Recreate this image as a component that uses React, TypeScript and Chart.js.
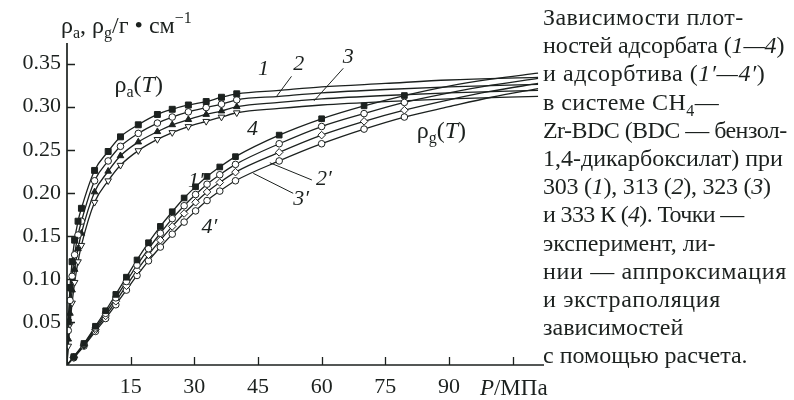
import React, { useEffect, useRef } from 'react';
import { Chart, registerables } from 'chart.js';

Chart.register(...registerables);

const FONT = '"Liberation Serif", "Times New Roman", serif';
const INK = '#1c211f';

// ---- axes ----
const xMin = 0;
const xMax = 112.4;
const yMin = 0;
const yMax = 0.374;
const xTicks = [15, 30, 45, 60, 75, 90, 105];
const xTickLabels = ['15', '30', '45', '60', '75', '90', ''];
const yTicks = [0.05, 0.1, 0.15, 0.2, 0.25, 0.3, 0.35];
const yTickLabels = ['0.05', '0.10', '0.15', '0.20', '0.25', '0.30', '0.35'];

// ---- origin shared by all curves ----
const originP = 0;
const originRho = 0;

// ---- adsorbate density rho_a (curves 1-4): experimental points ----
const aP = [0.3, 0.7, 1.2, 1.8, 2.6, 3.4, 6.5, 9.7, 12.6, 16.8, 21.3, 24.8, 28.6, 32.8, 36.4, 40];
const a1 = [0.05, 0.09, 0.12, 0.145, 0.167, 0.182, 0.226, 0.248, 0.265, 0.279, 0.291, 0.297, 0.302, 0.306, 0.311, 0.315];
const a2 = [0.04, 0.075, 0.103, 0.128, 0.151, 0.167, 0.214, 0.237, 0.254, 0.269, 0.281, 0.288, 0.294, 0.299, 0.303, 0.308];
const a3 = [0.03, 0.06, 0.087, 0.111, 0.135, 0.153, 0.201, 0.225, 0.243, 0.259, 0.271, 0.279, 0.285, 0.291, 0.295, 0.3];
const a4 = [0.022, 0.047, 0.072, 0.096, 0.12, 0.139, 0.189, 0.214, 0.232, 0.249, 0.262, 0.27, 0.277, 0.283, 0.288, 0.293];
// extrapolation (lines only)
const aExtP = [50, 60, 75, 90, 111];
const a1Ext = [0.319, 0.323, 0.327, 0.331, 0.334];
const a2Ext = [0.312, 0.316, 0.32, 0.323, 0.326];
const a3Ext = [0.305, 0.309, 0.313, 0.316, 0.319];
const a4Ext = [0.298, 0.302, 0.306, 0.309, 0.312];

// ---- gas density rho_g (curves 1'-4'): experimental points ----
const gP = [1.6, 4, 6.7, 9.1, 11.5, 14, 16.5, 19.2, 22, 24.8, 27.6, 30.3, 33, 36, 39.7, 50, 60, 70, 79.5];
const g1 = [0.0097, 0.025, 0.045, 0.063, 0.082, 0.102, 0.122, 0.142, 0.161, 0.178, 0.194, 0.207, 0.219, 0.23, 0.242, 0.267, 0.286, 0.301, 0.313];
const g2 = [0.0092, 0.024, 0.043, 0.06, 0.078, 0.097, 0.116, 0.135, 0.153, 0.17, 0.185, 0.198, 0.21, 0.221, 0.233, 0.257, 0.277, 0.292, 0.305];
const g3 = [0.0088, 0.023, 0.041, 0.057, 0.074, 0.092, 0.11, 0.128, 0.145, 0.161, 0.176, 0.189, 0.201, 0.212, 0.224, 0.247, 0.267, 0.283, 0.296];
const g4 = [0.0084, 0.022, 0.039, 0.054, 0.07, 0.087, 0.104, 0.121, 0.137, 0.152, 0.166, 0.179, 0.191, 0.202, 0.214, 0.237, 0.257, 0.274, 0.288];
// extrapolation (lines only)
const gExtP = [90, 100, 111];
const g1Ext = [0.324, 0.332, 0.339];
const g2Ext = [0.316, 0.325, 0.333];
const g3Ext = [0.308, 0.318, 0.327];
const g4Ext = [0.3, 0.311, 0.321];

// ---- curve labels (data coordinates) ----
const curveLabels = [
  { t: '1', p: 45, v: 0.337 },
  { t: '2', p: 53.3, v: 0.3426 },
  { t: '3', p: 65, v: 0.3508 },
  { t: '4', p: 42.4, v: 0.267 },
  { t: '1′', p: 28.5, v: 0.2067 },
  { t: '2′', p: 58.7, v: 0.209 },
  { t: '3′', p: 53.3, v: 0.1858 },
  { t: '4′', p: 31.7, v: 0.1533 },
];
const leaders = [
  [52.9, 0.3353, 49.4, 0.3121],
  [65.1, 0.3446, 58.2, 0.3068],
  [57.7, 0.2149, 47.8, 0.2349],
  [53.3, 0.1994, 43.9, 0.2226],
];
const rhoALabelPos = { p: 11.2, v: 0.317 };
const rhoGLabelPos = { p: 82.4, v: 0.2637 };
const pUnitPos = 97.3;

const aMarkers = [
  { style: 'rect', fill: INK, rot: 0, r: 4.2 },
  { style: 'circle', fill: '#ffffff', rot: 0, r: 3.3 },
  { style: 'triangle', fill: INK, rot: 0, r: 3.8 },
  { style: 'triangle', fill: '#ffffff', rot: 180, r: 3.8 },
];
const gMarkers = [
  { style: 'rect', fill: INK, rot: 0, r: 4.0 },
  { style: 'circle', fill: '#ffffff', rot: 0, r: 3.3 },
  { style: 'rectRot', fill: '#ffffff', rot: 0, r: 3.8 },
  { style: 'circle', fill: '#ffffff', rot: 0, r: 3.3 },
];

type Part = { t: string; it?: boolean; sub?: boolean; sup?: boolean };

function rich(ctx: CanvasRenderingContext2D, x: number, y: number, parts: Part[], size: number) {
  let cx = x;
  for (const p of parts) {
    const s = p.sub || p.sup ? Math.round(size * 0.68) : size;
    ctx.font = `${p.it ? 'italic ' : ''}${s}px ${FONT}`;
    const dy = p.sub ? size * 0.22 : p.sup ? -size * 0.4 : 0;
    ctx.fillText(p.t, cx, y + dy);
    cx += ctx.measureText(p.t).width;
  }
}

const decor = {
  id: 'decor',
  afterDraw(chart: any) {
    const { ctx, chartArea, scales } = chart;
    const { left, right, top, bottom } = chartArea;
    const xs = scales.x;
    const ys = scales.y;
    ctx.save();
    ctx.strokeStyle = INK;
    ctx.fillStyle = INK;
    // axes
    ctx.lineWidth = 1.7;
    ctx.beginPath();
    ctx.moveTo(left, top);
    ctx.lineTo(left, bottom);
    ctx.lineTo(right, bottom);
    ctx.stroke();
    // inward ticks
    ctx.lineWidth = 1.3;
    ctx.beginPath();
    yTicks.forEach((v) => {
      const py = Math.round(ys.getPixelForValue(v)) + 0.5;
      ctx.moveTo(left, py);
      ctx.lineTo(left + 8, py);
    });
    xTicks.forEach((v) => {
      const px = Math.round(xs.getPixelForValue(v)) + 0.5;
      ctx.moveTo(px, bottom);
      ctx.lineTo(px, bottom - 8);
    });
    ctx.stroke();

    // leader lines
    ctx.lineWidth = 1;
    ctx.beginPath();
    leaders.forEach(([p1, v1, p2, v2]) => {
      ctx.moveTo(xs.getPixelForValue(p1), ys.getPixelForValue(v1));
      ctx.lineTo(xs.getPixelForValue(p2), ys.getPixelForValue(v2));
    });
    ctx.stroke();

    ctx.textBaseline = 'alphabetic';
    ctx.textAlign = 'left';
    // curve number labels
    ctx.font = `italic 22px ${FONT}`;
    curveLabels.forEach((l) => {
      ctx.fillText(l.t, xs.getPixelForValue(l.p), ys.getPixelForValue(l.v));
    });
    // rho_a(T), rho_g(T)
    rich(ctx, xs.getPixelForValue(rhoALabelPos.p), ys.getPixelForValue(rhoALabelPos.v),
      [{ t: 'ρ' }, { t: 'a', sub: true }, { t: '(' }, { t: 'T', it: true }, { t: ')' }], 24);
    rich(ctx, xs.getPixelForValue(rhoGLabelPos.p), ys.getPixelForValue(rhoGLabelPos.v),
      [{ t: 'ρ' }, { t: 'g', sub: true }, { t: '(' }, { t: 'T', it: true }, { t: ')' }], 24);
    // y-axis title
    rich(ctx, left - 6, top - 10,
      [{ t: 'ρ' }, { t: 'a', sub: true }, { t: ', ρ' }, { t: 'g', sub: true }, { t: '/г • см' }, { t: '−1', sup: true }], 24);
    // x-axis unit
    rich(ctx, xs.getPixelForValue(pUnitPos), bottom + 30,
      [{ t: 'P', it: true }, { t: '/МПа' }], 23);
    ctx.restore();
  },
};

function pts(px: number[], vals: number[]) {
  return px.map((p, i) => ({ x: p, y: vals[i] }));
}

export default function App() {
  const ref = useRef<HTMLCanvasElement | null>(null);

  useEffect(() => {
    if (!ref.current) return;
    const aSeries = [
      [a1, a1Ext],
      [a2, a2Ext],
      [a3, a3Ext],
      [a4, a4Ext],
    ];
    const gSeries = [
      [g1, g1Ext],
      [g2, g2Ext],
      [g3, g3Ext],
      [g4, g4Ext],
    ];
    const datasets: any[] = [];
    const lineDs = (data: any[]) => ({
      type: 'line',
      data,
      borderColor: INK,
      borderWidth: 1.3,
      pointRadius: 0,
      fill: false,
      cubicInterpolationMode: 'monotone',
      order: 2,
    });
    const markDs = (data: any[], m: any) => ({
      type: 'line',
      data,
      showLine: false,
      pointStyle: m.style,
      pointRotation: m.rot,
      pointRadius: m.r,
      pointBackgroundColor: m.fill,
      pointBorderColor: INK,
      pointBorderWidth: 1,
      order: 1,
    });
    aSeries.forEach(([meas, ext], i) => {
      datasets.push(lineDs([{ x: originP, y: originRho }, ...pts(aP, meas), ...pts(aExtP, ext)]));
      datasets.push(markDs(pts(aP, meas), aMarkers[i]));
    });
    gSeries.forEach(([meas, ext], i) => {
      datasets.push(lineDs([{ x: originP, y: originRho }, ...pts(gP, meas), ...pts(gExtP, ext)]));
      datasets.push(markDs(pts(gP, meas), gMarkers[i]));
    });

    const chart = new Chart(ref.current, {
      type: 'line',
      data: { datasets },
      options: {
        animation: false,
        responsive: false,
        devicePixelRatio: 1,
        layout: { padding: { left: 0, top: 43, right: 250, bottom: 0 } },
        plugins: { legend: { display: false }, tooltip: { enabled: false } },
        scales: {
          x: {
            type: 'linear',
            min: xMin,
            max: xMax,
            grid: { display: false, drawTicks: false },
            border: { display: false },
            afterBuildTicks: (s: any) => {
              s.ticks = xTicks.map((v) => ({ value: v }));
            },
            afterFit: (s: any) => {
              s.height = 35;
            },
            ticks: {
              autoSkip: false,
              maxRotation: 0,
              padding: 9,
              color: INK,
              font: { family: FONT, size: 22 },
              callback: (v: any) => {
                const i = xTicks.indexOf(Number(v));
                return i >= 0 ? xTickLabels[i] : '';
              },
            },
          },
          y: {
            type: 'linear',
            min: yMin,
            max: yMax,
            grid: { display: false, drawTicks: false },
            border: { display: false },
            afterBuildTicks: (s: any) => {
              s.ticks = yTicks.map((v) => ({ value: v }));
            },
            afterFit: (s: any) => {
              s.width = 67;
            },
            ticks: {
              autoSkip: false,
              padding: 6,
              color: INK,
              font: { family: FONT, size: 22 },
              callback: (v: any) => {
                const i = yTicks.findIndex((t) => Math.abs(t - Number(v)) < 1e-9);
                return i >= 0 ? yTickLabels[i] : '';
              },
            },
          },
        },
      } as any,
      plugins: [decor],
    });
    return () => chart.destroy();
  }, []);

  const cap: React.CSSProperties = {
    position: 'absolute',
    left: 543,
    top: 3,
    fontFamily: FONT,
    fontSize: 24,
    lineHeight: '28.2px',
    color: INK,
    whiteSpace: 'nowrap',
  };
  const I = (s: string) => <i>{s}</i>;
  const ls = (v: number): React.CSSProperties => ({ letterSpacing: `${v}px` });

  return (
    <div style={{ position: 'absolute', left: 0, top: 0, width: 794, height: 400, background: '#fff', overflow: 'hidden' }}>
      <canvas ref={ref} width={794} height={400} style={{ position: 'absolute', left: 0, top: 0, width: 794, height: 400 }} />
      <div style={cap}>
        <div style={ls(0.45)}>Зависимости плот-</div>
        <div style={ls(-0.15)}>ностей адсорбата ({I('1—4')})</div>
        <div style={ls(0.55)}>и адсорбтива ({I('1′—4′')})</div>
        <div style={ls(0.45)}>в системе CH<sub style={{ fontSize: 16, lineHeight: 0 }}>4</sub>—</div>
        <div style={ls(-0.55)}>Zr-BDC (BDC — бензол-</div>
        <div>1,4-дикарбоксилат) при</div>
        <div style={ls(-0.25)}>303 ({I('1')}), 313 ({I('2')}), 323 ({I('3')})</div>
        <div style={ls(-0.65)}>и 333 К ({I('4')}). Точки —</div>
        <div>эксперимент, ли-</div>
        <div style={ls(0.65)}>нии — аппроксимация</div>
        <div style={ls(0.65)}>и экстраполяция</div>
        <div>зависимостей</div>
        <div>с помощью расчета.</div>
      </div>
    </div>
  );
}
